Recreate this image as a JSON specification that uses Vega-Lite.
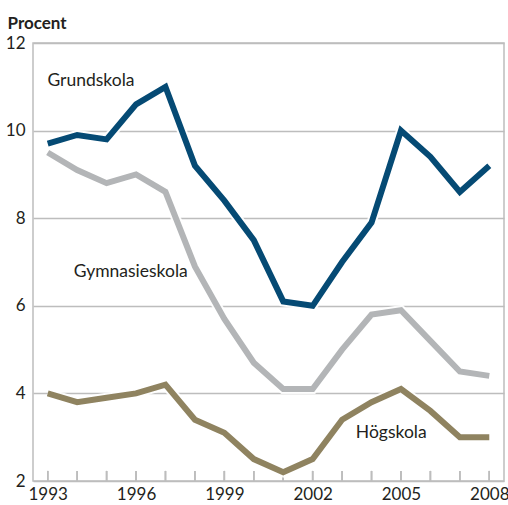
{
  "$schema": "https://vega.github.io/schema/vega-lite/v6.json",
  "autosize": {"type": "none"},
  "width": 471,
  "height": 438,
  "padding": {"left": 33, "top": 43, "right": 4, "bottom": 24},
  "background": "white",
  "config": {
    "font": "Lato",
    "view": {"stroke": "#bdbdbd", "strokeWidth": 1.5},
    "axis": {"labelOverlap": false}
  },
  "datasets": {
    "series": [
      {"year": 1993, "grupp": "Grundskola", "procent": 9.7},
      {"year": 1994, "grupp": "Grundskola", "procent": 9.9},
      {"year": 1995, "grupp": "Grundskola", "procent": 9.8},
      {"year": 1996, "grupp": "Grundskola", "procent": 10.6},
      {"year": 1997, "grupp": "Grundskola", "procent": 11.0},
      {"year": 1998, "grupp": "Grundskola", "procent": 9.2},
      {"year": 1999, "grupp": "Grundskola", "procent": 8.4},
      {"year": 2000, "grupp": "Grundskola", "procent": 7.5},
      {"year": 2001, "grupp": "Grundskola", "procent": 6.1},
      {"year": 2002, "grupp": "Grundskola", "procent": 6.0},
      {"year": 2003, "grupp": "Grundskola", "procent": 7.0},
      {"year": 2004, "grupp": "Grundskola", "procent": 7.9},
      {"year": 2005, "grupp": "Grundskola", "procent": 10.0},
      {"year": 2006, "grupp": "Grundskola", "procent": 9.4},
      {"year": 2007, "grupp": "Grundskola", "procent": 8.6},
      {"year": 2008, "grupp": "Grundskola", "procent": 9.2},
      {"year": 1993, "grupp": "Gymnasieskola", "procent": 9.5},
      {"year": 1994, "grupp": "Gymnasieskola", "procent": 9.1},
      {"year": 1995, "grupp": "Gymnasieskola", "procent": 8.8},
      {"year": 1996, "grupp": "Gymnasieskola", "procent": 9.0},
      {"year": 1997, "grupp": "Gymnasieskola", "procent": 8.6},
      {"year": 1998, "grupp": "Gymnasieskola", "procent": 6.9},
      {"year": 1999, "grupp": "Gymnasieskola", "procent": 5.7},
      {"year": 2000, "grupp": "Gymnasieskola", "procent": 4.7},
      {"year": 2001, "grupp": "Gymnasieskola", "procent": 4.1},
      {"year": 2002, "grupp": "Gymnasieskola", "procent": 4.1},
      {"year": 2003, "grupp": "Gymnasieskola", "procent": 5.0},
      {"year": 2004, "grupp": "Gymnasieskola", "procent": 5.8},
      {"year": 2005, "grupp": "Gymnasieskola", "procent": 5.9},
      {"year": 2006, "grupp": "Gymnasieskola", "procent": 5.2},
      {"year": 2007, "grupp": "Gymnasieskola", "procent": 4.5},
      {"year": 2008, "grupp": "Gymnasieskola", "procent": 4.4},
      {"year": 1993, "grupp": "Högskola", "procent": 4.0},
      {"year": 1994, "grupp": "Högskola", "procent": 3.8},
      {"year": 1995, "grupp": "Högskola", "procent": 3.9},
      {"year": 1996, "grupp": "Högskola", "procent": 4.0},
      {"year": 1997, "grupp": "Högskola", "procent": 4.2},
      {"year": 1998, "grupp": "Högskola", "procent": 3.4},
      {"year": 1999, "grupp": "Högskola", "procent": 3.1},
      {"year": 2000, "grupp": "Högskola", "procent": 2.5},
      {"year": 2001, "grupp": "Högskola", "procent": 2.2},
      {"year": 2002, "grupp": "Högskola", "procent": 2.5},
      {"year": 2003, "grupp": "Högskola", "procent": 3.4},
      {"year": 2004, "grupp": "Högskola", "procent": 3.8},
      {"year": 2005, "grupp": "Högskola", "procent": 4.1},
      {"year": 2006, "grupp": "Högskola", "procent": 3.6},
      {"year": 2007, "grupp": "Högskola", "procent": 3.0},
      {"year": 2008, "grupp": "Högskola", "procent": 3.0}
    ],
    "labels": [
      {"year": 1994.47, "procent": 11.13, "grupp": "Grundskola"},
      {"year": 1995.82, "procent": 6.77, "grupp": "Gymnasieskola"},
      {"year": 2004.67, "procent": 3.1, "grupp": "Högskola"}
    ]
  },
  "layer": [
    {
      "data": {"name": "series"},
      "mark": {"type": "rule", "stroke": "#bdbdbd", "strokeWidth": 1.5},
      "encoding": {
        "x": {
          "field": "year", "type": "quantitative",
          "scale": {"domain": [1992.5, 2008.5], "nice": false, "zero": false},
          "axis": {
            "title": null,
            "values": [1993, 1996, 1999, 2002, 2005, 2008],
            "format": "d",
            "grid": false,
            "domain": false,
            "ticks": false,
            "labelFontSize": 17,
            "labelColor": "#231f20",
            "labelPadding": 5,
            "labelFlush": false,
            "labelOverlap": false
          }
        },
        "y": {"datum": 2},
        "y2": {"datum": 2.23}
      }
    },
    {
      "data": {"name": "series"},
      "mark": {"type": "line", "stroke": "white", "strokeWidth": 10, "strokeJoin": "miter", "opacity": 0.9},
      "encoding": {
        "x": {"field": "year", "type": "quantitative"},
        "y": {
          "field": "procent", "type": "quantitative",
          "scale": {"domain": [2, 12], "nice": false, "zero": false},
          "axis": {
            "title": "Procent",
            "titleAngle": 0,
            "titleAlign": "left",
            "titleBaseline": "alphabetic",
            "titleX": -26,
            "titleY": -15,
            "titleFontSize": 17,
            "titleFontWeight": "bold",
            "titleColor": "#231f20",
            "values": [2, 4, 6, 8, 10, 12],
            "grid": true,
            "gridColor": "#bdbdbd",
            "gridWidth": 1.5,
            "domain": false,
            "ticks": false,
            "labelPadding": 8,
            "labelFontSize": 17,
            "labelColor": "#231f20"
          }
        },
        "detail": {"field": "grupp"}
      }
    },
    {
      "data": {"name": "series"},
      "mark": {"type": "line", "strokeWidth": 6, "strokeJoin": "miter"},
      "encoding": {
        "x": {"field": "year", "type": "quantitative"},
        "y": {"field": "procent", "type": "quantitative"},
        "color": {
          "field": "grupp", "type": "nominal",
          "scale": {"domain": ["Grundskola", "Gymnasieskola", "Högskola"], "range": ["#054a74", "#b3b5b7", "#8f8360"]},
          "legend": null
        }
      }
    },
    {
      "data": {"name": "labels"},
      "mark": {"type": "text", "fontSize": 17.5, "color": "#231f20", "align": "center", "baseline": "middle"},
      "encoding": {
        "x": {"field": "year", "type": "quantitative"},
        "y": {"field": "procent", "type": "quantitative"},
        "text": {"field": "grupp"}
      }
    }
  ]
}
